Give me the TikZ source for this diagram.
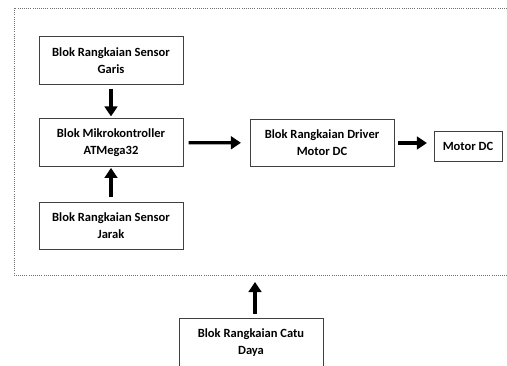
\documentclass[tikz,border=0pt]{standalone}
\usepackage{fontspec}
\setmainfont{Carlito}
\usetikzlibrary{arrows.meta,positioning}

\tikzset{
  blok/.style={draw=black!75, line width=0.6pt, fill=white, align=center,
    font=\bfseries\fontsize{9.4}{12.8}\selectfont,
    minimum width=108pt, minimum height=35.5pt, inner sep=1pt},
  panah/.style={line width=2.5pt, -{Triangle[length=7.5pt,width=9.5pt]}}
}

\begin{document}
\begin{tikzpicture}[x=0.75pt, y=-0.75pt]
\useasboundingbox (0,0) rectangle (507,365);
\clip (0,0) rectangle (507,365);

% sistem utama (garis putus-putus)
\draw [black!55, densely dotted, line width=0.6pt] (14,8) rectangle (530,275);

\node [blok] (garis) at (111,60.5) {Blok Rangkaian Sensor\\Garis};
\node [blok] (mikro) at (111,142.5) {Blok Mikrokontroller\\ATMega32};
\node [blok] (jarak) at (111,226) {Blok Rangkaian Sensor\\Jarak};
\node [blok] (driver) at (322,143) {Blok Rangkaian Driver\\Motor DC};
\node [blok, minimum width=51pt, minimum height=22pt] (motor) at (468,146.5) {Motor DC};
\node [blok] (catu) at (251,342.5) {Blok Rangkaian Catu\\Daya};

\coordinate (daya) at (255,282);

\draw [panah, shorten <=3pt, shorten >=1.5pt] (garis) -- (mikro);
\draw [panah, shorten <=3.5pt, shorten >=1pt] (jarak) -- (mikro);
\draw [panah, shorten <=4pt, shorten >=6.5pt] (mikro) -- (driver);
\draw [panah, shorten <=3pt, shorten >=5pt] (driver.east) -- (driver.east -| motor.west);
\draw [panah, shorten <=3.5pt] (catu.north -| daya) -- (daya);
\end{tikzpicture}
\end{document}
